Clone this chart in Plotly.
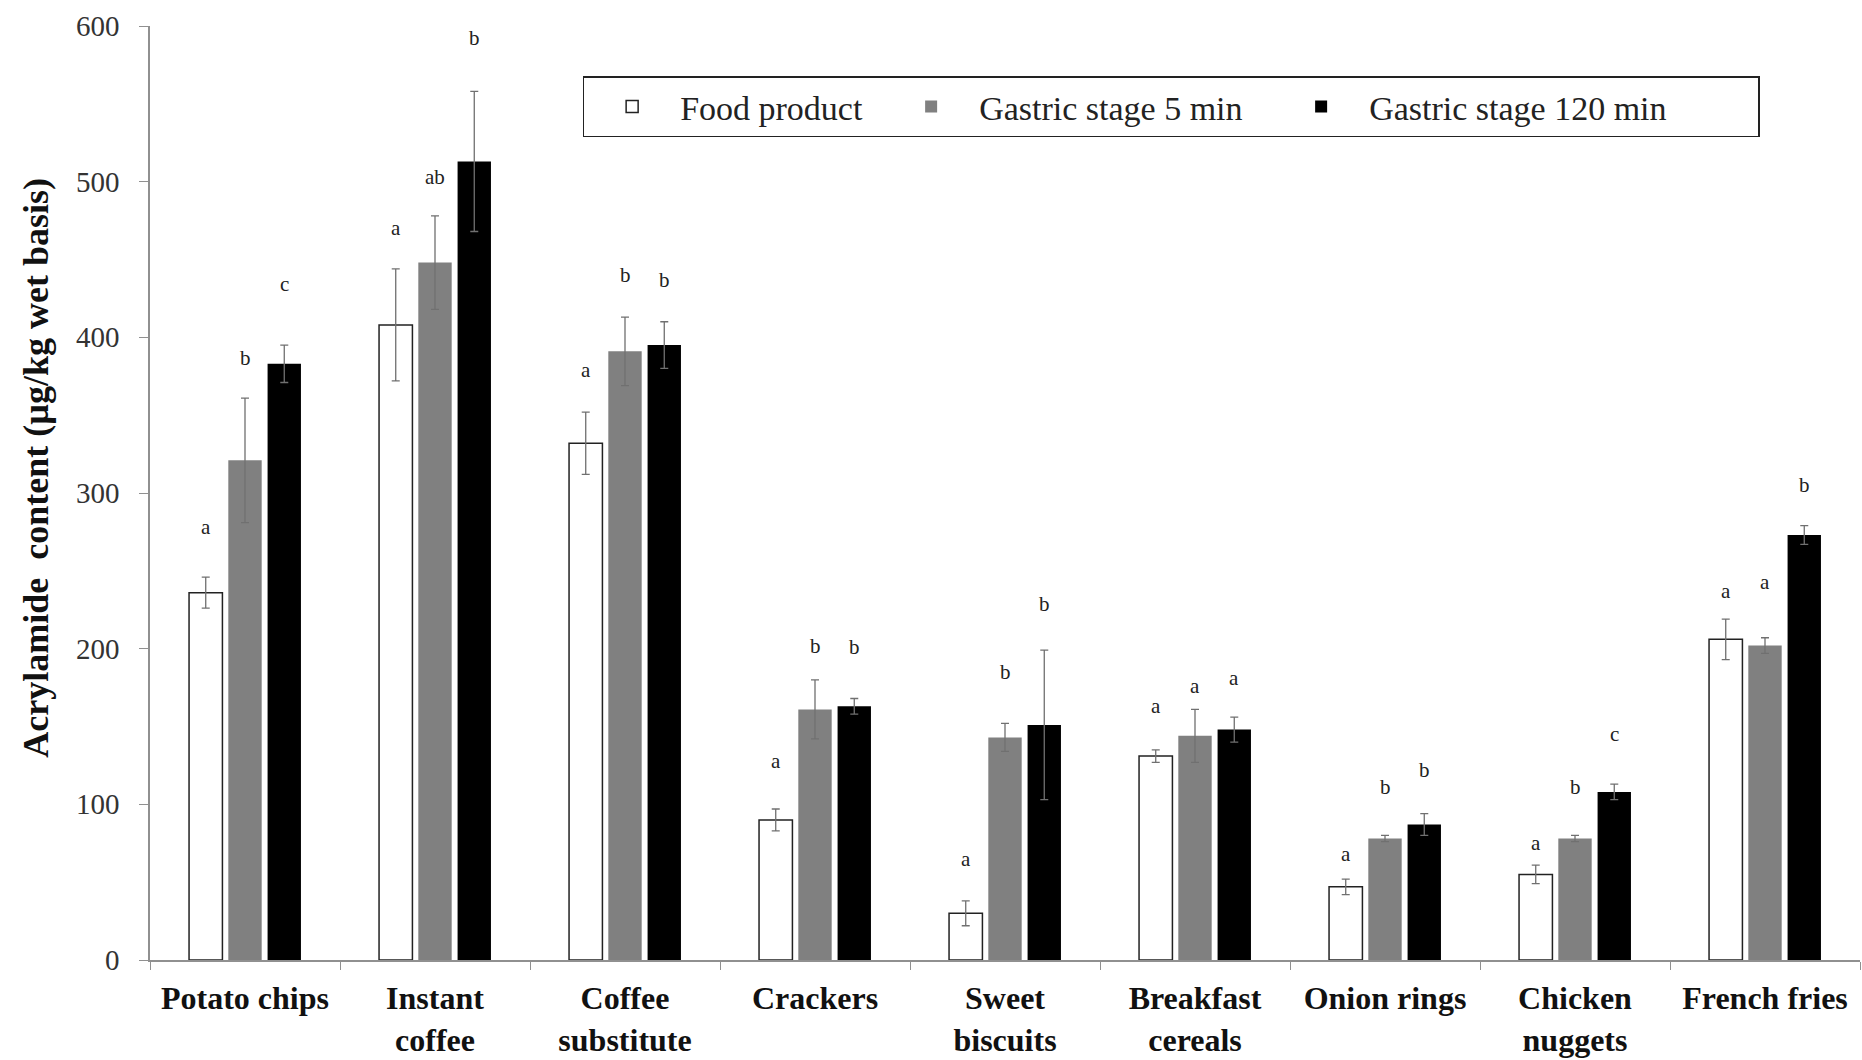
import plotly.graph_objects as go

categories = ["Potato chips", "Instant<br>coffee", "Coffee<br>substitute", "Crackers",
              "Sweet<br>biscuits", "Breakfast<br>cereals", "Onion rings",
              "Chicken<br>nuggets", "French fries"]
series_names = ["Food product", "Gastric stage 5 min", "Gastric stage 120 min"]

food_product = [236, 408, 332, 90, 30, 131, 47, 55, 206]
food_product_err = [10, 36, 20, 7, 8, 4, 5, 6, 13]
gastric_5 = [321, 448, 391, 161, 143, 144, 78, 78, 202]
gastric_5_err = [40, 30, 22, 19, 9, 17, 2, 2, 5]
gastric_120 = [383, 513, 395, 163, 151, 148, 87, 108, 273]
gastric_120_err = [12, 45, 15, 5, 48, 8, 7, 5, 6]

letters_food = ["a", "a", "a", "a", "a", "a", "a", "a", "a"]
letters_5 = ["b", "ab", "b", "b", "b", "a", "b", "b", "a"]
letters_120 = ["c", "b", "b", "b", "b", "a", "b", "c", "b"]
letter_y_food = [278, 470, 379, 128, 65, 163, 68, 75, 237]
letter_y_5 = [387, 503, 440, 202, 185, 176, 111, 111, 243]
letter_y_120 = [434, 592, 437, 201, 229, 181, 122, 145, 305]

y_ticks = [0, 100, 200, 300, 400, 500, 600]
y_title = "Acrylamide  content (µg/kg wet basis)"

W, H = 1862, 1060
margin = dict(l=150, r=2, t=26, b=97)
bargap = 0.38
bargroupgap = 0.15
serif = "Liberation Serif, Times New Roman, serif"

fig = go.Figure()
styles = [
    dict(color="white", line=dict(color="#222222", width=1.5)),
    dict(color="#808080", line=dict(color="#808080", width=0)),
    dict(color="#000000", line=dict(color="#000000", width=0)),
]
values = [food_product, gastric_5, gastric_120]
errs = [food_product_err, gastric_5_err, gastric_120_err]
legend_widths = [198, 289, 384]
for name, v, e, st, lw in zip(series_names, values, errs, styles, legend_widths):
    fig.add_trace(go.Bar(
        x=categories, y=v, name=name, marker=st, legendwidth=lw,
        error_y=dict(type="data", array=e, color="#707070", thickness=1.3, width=4),
    ))

# significance letters
plot_w = W - margin["l"] - margin["r"]
cat_w = plot_w / len(categories)
slot = cat_w * (1 - bargap) / 3
letter_sets = [(letters_food, letter_y_food), (letters_5, letter_y_5), (letters_120, letter_y_120)]
for k, (labs, ys) in enumerate(letter_sets):
    for i, (lab, yv) in enumerate(zip(labs, ys)):
        fig.add_annotation(x=i, y=yv, text=lab, showarrow=False, xshift=(k - 1) * slot,
                           font=dict(family=serif, size=21, color="#222222"))

# y-axis title
fig.add_annotation(xref="paper", yref="paper", x=-0.0667, y=0.527, text=y_title,
                   textangle=-90, showarrow=False, xanchor="center", yanchor="middle",
                   font=dict(family=serif, size=36, color="#111111", weight="bold"))

fig.update_layout(
    width=W, height=H, margin=margin,
    paper_bgcolor="white", plot_bgcolor="white",
    barmode="group", bargap=bargap, bargroupgap=bargroupgap,
    font=dict(family=serif, color="#222222"),
    legend=dict(orientation="h", x=0.253, y=0.946, xanchor="left", yanchor="top",
                bordercolor="#222222", borderwidth=1.5, bgcolor="white",
                font=dict(family=serif, size=34, color="#222222"),
                itemwidth=86, traceorder="normal"),
    showlegend=True,
)
fig.update_xaxes(
    showline=True, linecolor="#909090", linewidth=1.5, ticks="outside",
    tickson="boundaries", ticklen=8, tickcolor="#909090", showgrid=False,
    ticklabelstandoff=9,
    tickfont=dict(family=serif, size=32, color="#111111", weight="bold"),
)
fig.update_yaxes(
    range=[0, 600], tickvals=y_ticks, showline=True, linecolor="#909090", linewidth=1.5,
    ticks="outside", ticklen=9, tickcolor="#909090", showgrid=False, zeroline=False,
    ticklabelstandoff=14,
    tickfont=dict(family=serif, size=29, color="#333333"),
)
fig.write_html("out.html", post_script="document.body.style.margin='0';",
               config={"displayModeBar": False})
